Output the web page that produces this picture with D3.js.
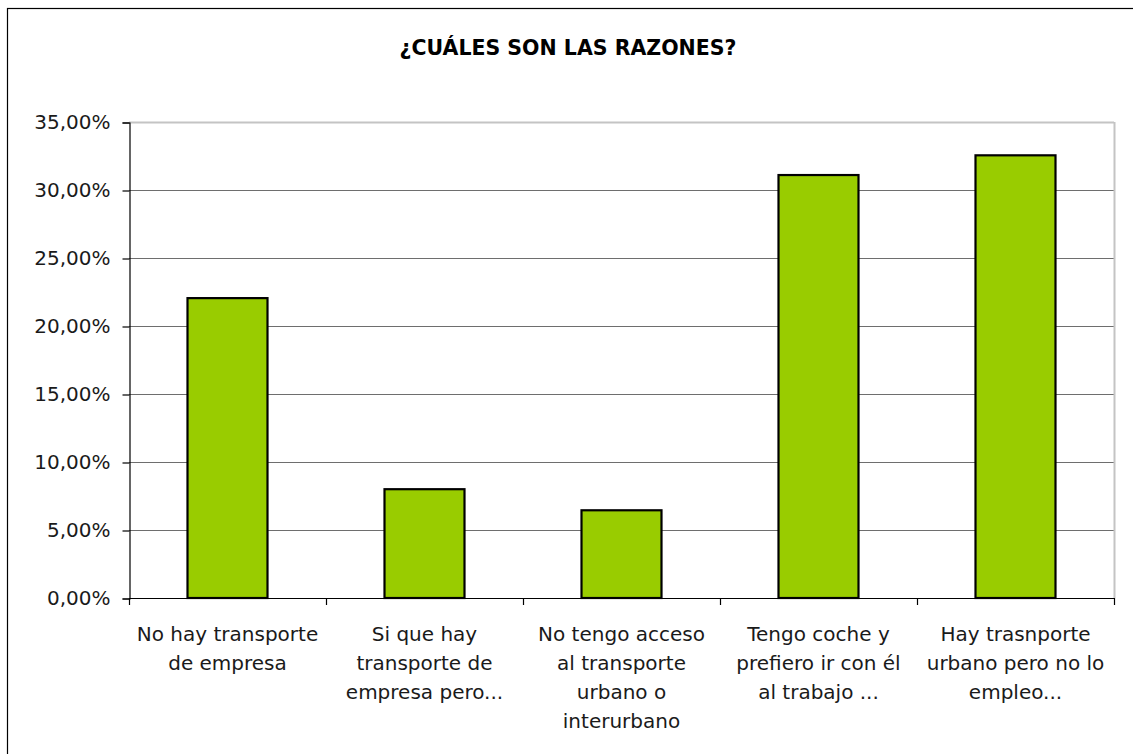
<!DOCTYPE html>
<html><head><meta charset="utf-8">
<script src="https://cdn.jsdelivr.net/npm/d3@7"></script>
<style>body{margin:0;background:#fff;} svg{display:block;}</style>
</head><body>
<svg id="c" width="1133" height="754"></svg>
<script>
const categories = [
  ["No hay transporte","de empresa"],
  ["Si que hay","transporte de","empresa pero..."],
  ["No tengo acceso","al transporte","urbano o","interurbano"],
  ["Tengo coche y","prefiero ir con él","al trabajo ..."],
  ["Hay trasnporte","urbano pero no lo","empleo..."]
];
const values = [22.05, 8.0, 6.45, 31.1, 32.55];
const yTicks = [0,5,10,15,20,25,30,35];
const title = "¿CUÁLES SON LAS RAZONES?";

const font = "'DejaVu Sans', sans-serif";
const fs = 20;
const svg = d3.select("#c");
const m = {l:129, t:122, r:1114, b:598};

svg.append("rect").attr("x",7.5).attr("y",8.5).attr("width",1140).attr("height",760)
  .attr("fill","#fff").attr("stroke","#000").attr("stroke-width",1.2);

svg.append("text").attr("x",568).attr("y",55).attr("text-anchor","middle")
  .attr("font-family",font).attr("font-weight","bold").attr("font-size",20.5)
  .attr("fill","#000").text(title);

const x = d3.scaleBand().domain(d3.range(categories.length)).range([m.l,m.r]).paddingInner(0).paddingOuter(0);
const y = d3.scaleLinear().domain([0,35]).range([m.b,m.t]);

// gridlines
svg.append("g").selectAll("line").data(yTicks.filter(d=>d>0 && d<35)).join("line")
  .attr("x1",m.l).attr("x2",m.r).attr("y1",d=>y(d)+0.5).attr("y2",d=>y(d)+0.5)
  .attr("stroke","#6e6e6e").attr("stroke-width",1.2);
// top and right plot border
svg.append("line").attr("x1",m.l).attr("x2",m.r).attr("y1",y(35)+0.5).attr("y2",y(35)+0.5)
  .attr("stroke","#c4c4c4").attr("stroke-width",2);
svg.append("line").attr("x1",m.r+0.5).attr("x2",m.r+0.5).attr("y1",m.t).attr("y2",m.b)
  .attr("stroke","#c4c4c4").attr("stroke-width",2);

// bars
const bw = 80;
svg.append("g").selectAll("rect").data(values).join("rect")
  .attr("x",(d,i)=>x(i)+x.bandwidth()/2-bw/2)
  .attr("y",d=>y(d))
  .attr("width",bw)
  .attr("height",d=>m.b-y(d))
  .attr("fill","#99cc00").attr("stroke","#000").attr("stroke-width",2.2);

// y axis
const yAxis = d3.axisLeft(y).tickValues(yTicks).tickSize(7).tickPadding(12)
  .tickFormat(d=>d3.format(".2f")(d).replace(".",",")+"%");
const gy = svg.append("g").attr("transform",`translate(${m.l+0.5},0.5)`).call(yAxis);
gy.select(".domain").attr("stroke","#000").attr("stroke-width",1.2);
gy.selectAll(".tick line").attr("stroke","#000").attr("stroke-width",1.2);
gy.selectAll(".tick text").attr("font-family",font).attr("font-size",fs).attr("fill","#1a1a1a");

// x axis
svg.append("line").attr("x1",m.l).attr("x2",m.r+1).attr("y1",m.b+0.5).attr("y2",m.b+0.5)
  .attr("stroke","#000").attr("stroke-width",1.2);
const bounds = d3.range(categories.length+1).map(i=>i<categories.length?x(i):m.r);
svg.append("g").selectAll("line").data(bounds).join("line")
  .attr("x1",d=>d+0.5).attr("x2",d=>d+0.5).attr("y1",m.b).attr("y2",m.b+7)
  .attr("stroke","#000").attr("stroke-width",1.2);

const lab = svg.append("g").selectAll("text").data(categories).join("text")
  .attr("text-anchor","middle").attr("font-family",font).attr("font-size",fs).attr("fill","#1a1a1a");
lab.each(function(lines,i){
  const t = d3.select(this);
  lines.forEach((s,j)=>{
    t.append("tspan").attr("x",x(i)+x.bandwidth()/2).attr("y",641+j*29).text(s);
  });
});
</script>
</body></html>
